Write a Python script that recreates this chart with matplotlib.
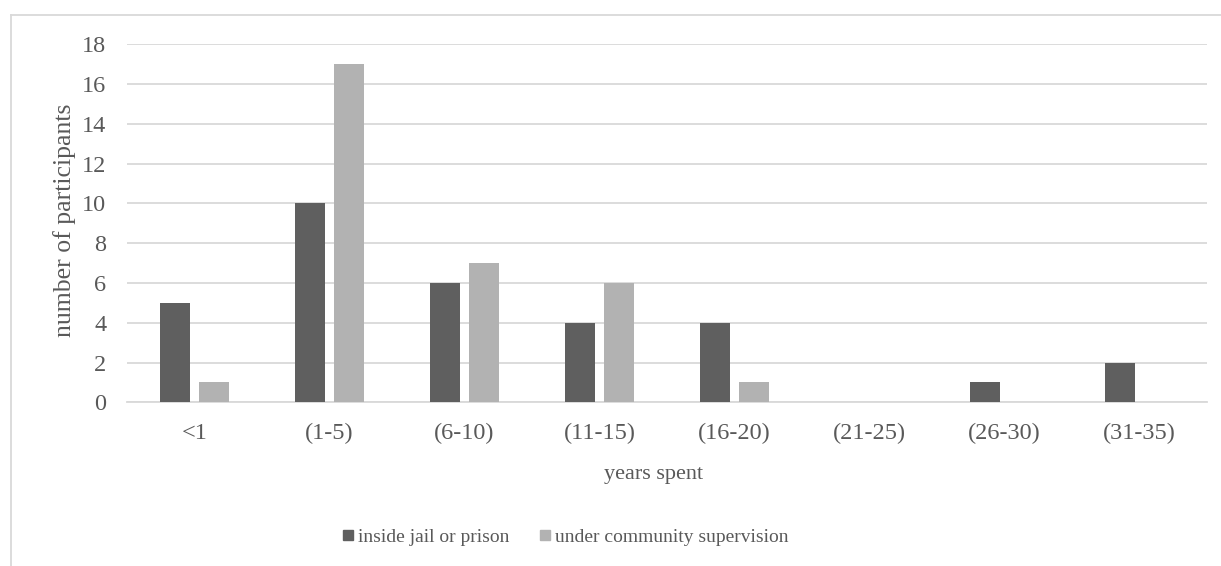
import numpy as np
import matplotlib

matplotlib.use("Agg", force=True)
import matplotlib.pyplot as plt
from matplotlib.lines import Line2D
from matplotlib.patches import Rectangle

categories = ["<1", "(1-5)", "(6-10)", "(11-15)", "(16-20)", "(21-25)", "(26-30)", "(31-35)"]
inside = [5, 10, 6, 4, 4, 0, 1, 2]
supervision = [1, 17, 7, 6, 1, 0, 0, 0]
series_names = ["inside jail or prison", "under community supervision"]

DARK = "#5f5f5f"
LIGHT = "#b2b2b2"
TEXT = "#595959"
GRID = "#d9d9d9"

W, H = 1221, 566

plt.rcParams["font.family"] = ["Liberation Serif", "DejaVu Serif"]

fig = plt.figure(figsize=(W / 100, H / 100), dpi=100)
ax = fig.add_axes([127 / W, 1 - 402.3 / H, 1080 / W, (402.3 - 44.3) / H])

x = np.arange(len(categories))
width = 0.222
offset = 0.142
ax.bar(x - offset, inside, width, color=DARK, label=series_names[0], zorder=3)
ax.bar(x + offset, supervision, width, color=LIGHT, label=series_names[1], zorder=3)

ax.set_xlim(-0.5, len(categories) - 0.5)
ax.set_ylim(0, 18)
ax.set_yticks(np.arange(0, 19, 2))
ax.set_xticks(x, labels=categories)
ax.tick_params(axis="both", length=0, labelsize=17.5, labelcolor=TEXT)
ax.tick_params(axis="y", pad=15)
ax.tick_params(axis="x", pad=15)
ax.grid(axis="y", color=GRID, linewidth=1.3, zorder=0)
for side in ["top", "right", "left"]:
    ax.spines[side].set_visible(False)
ax.spines["bottom"].set_color(GRID)
ax.spines["bottom"].set_linewidth(1.3)

fig.text(65 / W, 1 - 220 / H, "number of participants", rotation=90,
         ha="center", va="center", fontsize=18.5, color=TEXT)
fig.text(654 / W, 1 - 475 / H, "years spent", ha="center", va="center",
         fontsize=16, color=TEXT)

# legend: small square keys followed by labels
legend_y = 1 - 535 / H
key = 10
for key_x, name, color in [(343, series_names[0], DARK), (540, series_names[1], LIGHT)]:
    fig.add_artist(Rectangle((key_x / W, legend_y - key / 2 / H), key / W, key / H,
                             color=color, transform=fig.transFigure))
    fig.text((key_x + key + 5) / W, legend_y, name, ha="left", va="center_baseline",
             fontsize=14, color=TEXT)

# chart frame (top and left edges only)
fig.add_artist(Line2D([11 / W, 1], [1 - 15 / H, 1 - 15 / H], color=GRID, linewidth=1.3))
fig.add_artist(Line2D([11 / W, 11 / W], [0, 1 - 15 / H], color=GRID, linewidth=1.3))

fig.savefig("out.png", dpi=100)
